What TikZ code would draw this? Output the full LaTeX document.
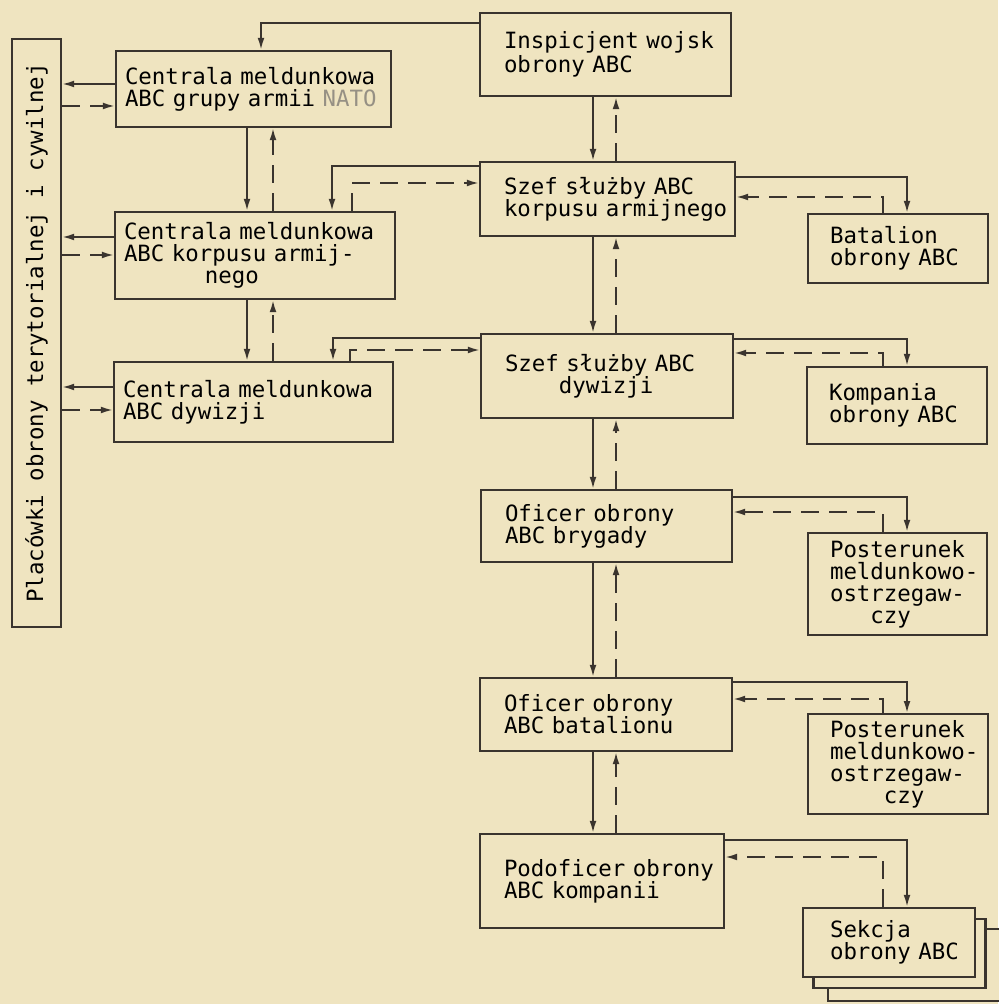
\documentclass[tikz,border=0pt]{standalone}
\usepackage{fontspec}
\setmonofont{DejaVu Sans Mono}
\usetikzlibrary{arrows.meta}

\definecolor{paper}{RGB}{239,228,192}
\definecolor{ink}{RGB}{58,52,46}
\definecolor{faded}{RGB}{150,144,132}

% one typed line, never broken
\newcommand{\linia}[1]{\mbox{#1}}
% typewriter: a space is as wide as a letter
\newcommand{\maszyna}[1]{\ttfamily\fontsize{11.2}{#1}\selectfont\spaceskip=0.602em\relax}

\tikzset{
	unitbox/.style={draw=ink, fill=paper, line width=1.1pt, align=left, inner ysep=3pt},
	cmbox/.style={unitbox, inner xsep=4.5pt},
	midbox/.style={unitbox, inner xsep=12pt},
	sidebox/.style={unitbox, inner xsep=11pt},
	command/.style={draw=ink, line width=0.9pt, -{Latex[length=6pt,width=3.4pt]}},
	report/.style={command, dash pattern=on 9pt off 5pt},
}

\begin{document}
\begin{tikzpicture}[x=0.5pt, y=-0.5pt, font=\maszyna{11}]
	\fill[paper] (0,0) rectangle (998,1004);
	\useasboundingbox (0,0) rectangle (998,1004);

	% left column
	\node[draw=ink, fill=paper, line width=1.1pt, rotate=90, minimum width=294pt, minimum height=24.5pt, inner sep=0pt] (placowki) at (36.5,333) {\linia{Placówki obrony terytorialnej i cywilnej}\hspace{20pt}};
	\node[cmbox, text width=128.5pt, minimum height=38pt] (cmGrupy) at (253.5,89) {\linia{Centrala meldunkowa}\\\linia{ABC grupy armii {\color{faded}NATO}}};
	\node[cmbox, text width=131pt, minimum height=43.5pt] (cmKorpus) at (255,255.5) {\linia{Centrala meldunkowa}\\\linia{ABC korpusu armij-}\\\phantom{xxxxxx}nego};
	\node[cmbox, text width=130.5pt, minimum height=40pt] (cmDyw) at (253.5,402) {\linia{Centrala meldunkowa}\\\linia{ABC dywizji}};

	% middle column
	\node[midbox, text width=101.5pt, minimum height=41.5pt, font=\maszyna{9.5}] (inspicjent) at (605.5,54.5) {\linia{Inspicjent wojsk}\\\linia{obrony ABC}};
	\node[midbox, text width=103.5pt, minimum height=37pt] (szefKorpus) at (607.5,199) {\linia{Szef służby ABC}\\\linia{korpusu armijnego}};
	\node[midbox, text width=102pt, minimum height=42pt] (szefDyw) at (607,376) {\linia{Szef służby ABC}\\\phantom{xxxx}dywizji};
	\node[midbox, text width=101.5pt, minimum height=36pt] (oficerBryg) at (606.5,526) {\linia{Oficer obrony}\\\linia{ABC brygady}};
	\node[midbox, text width=102pt, minimum height=36.5pt] (oficerBat) at (606,714.5) {\linia{Oficer obrony}\\\linia{ABC batalionu}};
	\node[midbox, text width=98pt, minimum height=47pt] (podoficer) at (602,881) {\linia{Podoficer obrony}\\\linia{ABC kompanii}};

	% right column
	\node[sidebox, text width=68pt, minimum height=34.5pt] (batalion) at (898,248.5) {Batalion\\\linia{obrony ABC}};
	\node[sidebox, text width=68pt, minimum height=38.5pt] (kompania) at (897,405.5) {Kompania\\\linia{obrony ABC}};
	\node[sidebox, text width=67.5pt, minimum height=51pt] (postBryg) at (897.5,584) {Posterunek\\meldunkowo-\\ostrzegaw-\\\phantom{xxx}czy};
	\node[sidebox, text width=68pt, minimum height=49pt] (postBat) at (898,764) {Posterunek\\meldunkowo-\\ostrzegaw-\\\phantom{xxxx}czy};
	\node[sidebox, text width=59pt, inner xsep=13.5pt, minimum height=36pt] (sekcjaC) at (914,965) {};
	\node[sidebox, text width=59pt, inner xsep=13.5pt, minimum height=34.5pt] (sekcjaB) at (899.5,953.5) {};
	\node[sidebox, text width=59pt, inner xsep=13.5pt, minimum height=34.5pt] (sekcja) at (889,942.5) {Sekcja\\\linia{obrony ABC}};

	% to the territorial posts
	\foreach \n/\ya/\yb in {cmGrupy/84/106, cmKorpus/237/255, cmDyw/387/410} {
		\draw[command] (\n.west |- 0,\ya) -- (placowki.south |- 0,\ya);
		\draw[report] (placowki.south |- 0,\yb) -- (\n.west |- 0,\yb);
	}
	\draw[command] (cmGrupy.south -| 247,0) -- (cmKorpus.north -| 247,0);
	\draw[report] (cmKorpus.north -| 273,0) -- (cmGrupy.south -| 273,0);
	\draw[command] (cmKorpus.south -| 247,0) -- (cmDyw.north -| 247,0);
	\draw[report] (cmDyw.north -| 273,0) -- (cmKorpus.south -| 273,0);

	\draw[command] (inspicjent.west |- 0,23) -| (261,0 |- cmGrupy.north);
	\draw[command] (szefKorpus.west |- 0,166) -| (332,0 |- cmKorpus.north);
	\draw[report] (352,0 |- cmKorpus.north) |- (szefKorpus.west |- 0,183);
	\draw[command] (szefDyw.west |- 0,338) -| (333,0 |- cmDyw.north);
	\draw[report] (350,0 |- cmDyw.north) |- (szefDyw.west |- 0,350);

	% chain of command
	\foreach \a/\b in {inspicjent/szefKorpus, szefKorpus/szefDyw, szefDyw/oficerBryg, oficerBryg/oficerBat, oficerBat/podoficer} {
		\draw[command] (\a.south -| 593,0) -- (\b.north -| 593,0);
		\draw[report] (\b.north -| 616,0) -- (\a.south -| 616,0);
	}

	% subordinate units
	\foreach \a/\b/\ya/\yb in {szefKorpus/batalion/177/197, szefDyw/kompania/339/353, oficerBryg/postBryg/497/512, oficerBat/postBat/682/699, podoficer/sekcja/840/857} {
		\draw[command] (\a.east |- 0,\ya) -| (907,0 |- \b.north);
		\draw[report] (883,0 |- \b.north) |- (\a.east |- 0,\yb);
	}
\end{tikzpicture}
\end{document}
